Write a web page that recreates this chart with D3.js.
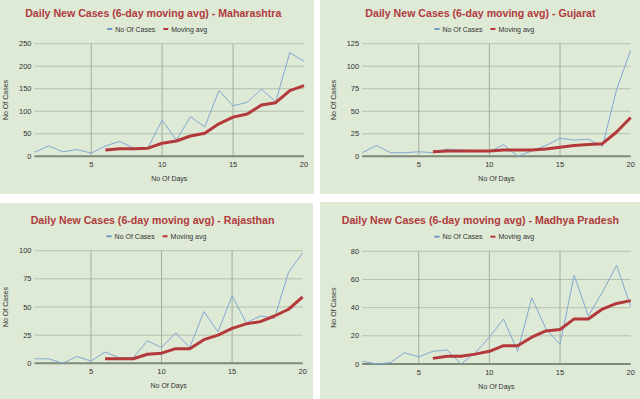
<html>
<head>
<script src="https://cdn.jsdelivr.net/npm/d3@7/dist/d3.min.js"></script>
<style>
  body { margin: 0; background: #fff; }
  svg { display: block; font-family: "Liberation Sans", Arial, sans-serif; }
</style>
</head>
<body>
<svg width="640" height="399"></svg>
<script>

var days = d3.range(1, 21)
var avgDays = d3.range(6, 21)

var mhCases = [9, 23, 10, 15, 7, 23, 33, 18, 19, 80, 36, 88, 65, 146, 112, 120, 149, 121, 230, 211]
var mhAvg = [14, 17, 17, 18, 29, 34, 45, 51, 72, 87, 94, 114, 119, 146, 157]

var gjCases = [4, 12, 4, 4, 5, 4, 8, 7, 6, 5, 13, 0, 6, 12, 20, 18, 19, 11, 74, 118]
var gjAvg = [5, 6, 6, 6, 6, 7, 7, 7, 8, 10, 12, 13, 14, 27, 43]

var rjCases = [4, 4, 0, 6, 2, 10, 5, 5, 20, 14, 27, 14, 46, 28, 60, 36, 42, 40, 81, 98]
var rjAvg = [4, 4, 4, 8, 9, 13, 13, 21, 25, 31, 35, 37, 42, 48, 59]

var mpCases = [2, 0, 1, 8, 5, 9, 10, 0, 8, 19, 32, 9, 47, 25, 14, 63, 34, 51, 70, 41]
var mpAvg = [4, 5.5, 5.5, 7, 9, 13, 13, 19, 23.5, 24.5, 32, 32, 39, 43, 45]

var xTicks = [5, 10, 15, 20]
var titles = ['Maharashtra', 'Gujarat', 'Rajasthan', 'Madhya Pradesh']

// panel boxes and plot areas
var panels = [
    {name: titles[0], cases: mhCases, avg: mhAvg, yMax: 250, yTicks: [0, 50, 100, 150, 200, 250],
     box: [0, 0, 314, 194], x0: 34.5, x1: 304, yTop: 43.7, yBot: 156.3, titleY: 16.5, legY: 29, ytX: 8},
    {name: titles[1], cases: gjCases, avg: gjAvg, yMax: 125, yTicks: [0, 25, 50, 75, 100, 125],
     box: [320, 0, 320, 194], x0: 362.2, x1: 630.7, yTop: 43.7, yBot: 156.3, titleY: 16.5, legY: 29, ytX: 16},
    {name: titles[2], cases: rjCases, avg: rjAvg, yMax: 100, yTicks: [0, 25, 50, 75, 100],
     box: [0, 203, 313, 196], x0: 34.5, x1: 302.7, yTop: 250.7, yBot: 363.3, titleY: 224, legY: 236.3, ytX: 8},
    {name: titles[3], cases: mpCases, avg: mpAvg, yMax: 80, yTicks: [0, 20, 40, 60, 80],
     box: [320, 202, 320, 197], x0: 362.2, x1: 630.7, yTop: 251.3, yBot: 364, titleY: 224, legY: 236.7, ytX: 16}
]

var svg = d3.select('svg')

panels.forEach(function(p){
    var g = svg.append('g')

    g.append('rect')
        .attr('x', p.box[0]).attr('y', p.box[1])
        .attr('width', p.box[2]).attr('height', p.box[3])
        .attr('fill', '#dee9d6')

    var x = d3.scaleLinear().domain([1, 20]).range([p.x0, p.x1])
    var y = d3.scaleLinear().domain([0, p.yMax]).range([p.yBot, p.yTop])

    // horizontal grid
    g.selectAll('.hg')
        .data(p.yTicks.slice(1))
        .enter()
        .append('line')
        .attr('x1', p.x0).attr('x2', p.x1)
        .attr('y1', function(d){ return y(d) })
        .attr('y2', function(d){ return y(d) })
        .attr('stroke', '#b5c0b0')
        .attr('stroke-width', 1)

    // vertical grid
    g.selectAll('.vg')
        .data([5, 10, 15])
        .enter()
        .append('line')
        .attr('x1', function(d){ return x(d) })
        .attr('x2', function(d){ return x(d) })
        .attr('y1', p.yTop).attr('y2', p.yBot)
        .attr('stroke', '#a3ae9e')
        .attr('stroke-width', 1)

    // baseline
    g.append('line')
        .attr('x1', p.x0).attr('x2', p.x1)
        .attr('y1', y(0)).attr('y2', y(0))
        .attr('stroke', '#7d8a78')
        .attr('stroke-width', 2)

    // y tick labels
    g.selectAll('.yt')
        .data(p.yTicks)
        .enter()
        .append('text')
        .attr('x', p.x0 - 3)
        .attr('y', function(d){ return y(d) + 2.5 })
        .attr('text-anchor', 'end')
        .attr('font-size', '7.5px')
        .attr('fill', '#333')
        .text(function(d){ return d })

    // x tick labels
    g.selectAll('.xt')
        .data(xTicks)
        .enter()
        .append('text')
        .attr('x', function(d){ return x(d) })
        .attr('y', p.yBot + 10.5)
        .attr('text-anchor', 'middle')
        .attr('font-size', '7.5px')
        .attr('fill', '#333')
        .text(function(d){ return d })

    var line = d3.line()
        .x(function(d){ return x(d[0]) })
        .y(function(d){ return y(d[1]) })

    g.append('path')
        .datum(days.map(function(d, i){ return [d, p.cases[i]] }))
        .attr('d', line)
        .attr('fill', 'none')
        .attr('stroke', '#83a8d2')
        .attr('stroke-width', 1)

    g.append('path')
        .datum(avgDays.map(function(d, i){ return [d, p.avg[i]] }))
        .attr('d', line)
        .attr('fill', 'none')
        .attr('stroke', '#b3393b')
        .attr('stroke-width', 3)
        .attr('stroke-linejoin', 'round')

    // title
    g.append('text')
        .attr('x', (p.x0 + p.x1) / 2 - 16)
        .attr('y', p.titleY)
        .attr('text-anchor', 'middle')
        .attr('font-size', '10.6px')
        .attr('font-weight', 'bold')
        .attr('fill', '#b03b3d')
        .text('Daily New Cases (6-day moving avg) - ' + p.name)

    // legend
    var lx = (p.x0 + p.x1) / 2 - 62
    var leg = g.append('g').attr('transform', 'translate(' + lx + ',' + p.legY + ')')
    leg.append('line').attr('x1', 0).attr('x2', 5).attr('y1', 0).attr('y2', 0)
        .attr('stroke', '#6f97c9').attr('stroke-width', 2)
    leg.append('text').attr('x', 8).attr('y', 2.5).attr('font-size', '7px').attr('fill', '#333')
        .text('No Of Cases')
    leg.append('line').attr('x1', 56).attr('x2', 61).attr('y1', 0).attr('y2', 0)
        .attr('stroke', '#b3393b').attr('stroke-width', 2)
    leg.append('text').attr('x', 64).attr('y', 2.5).attr('font-size', '7px').attr('fill', '#333')
        .text('Moving avg')

    // axis titles
    g.append('text')
        .attr('x', (p.x0 + p.x1) / 2)
        .attr('y', p.yBot + 25)
        .attr('text-anchor', 'middle')
        .attr('font-size', '7px')
        .attr('fill', '#333')
        .text('No Of Days')

    g.append('text')
        .attr('transform', 'translate(' + (p.box[0] + p.ytX) + ',' + ((p.yTop + p.yBot) / 2) + ') rotate(-90)')
        .attr('text-anchor', 'middle')
        .attr('font-size', '7px')
        .attr('fill', '#333')
        .text('No Of Cases')
})

</script>
</body>
</html>
